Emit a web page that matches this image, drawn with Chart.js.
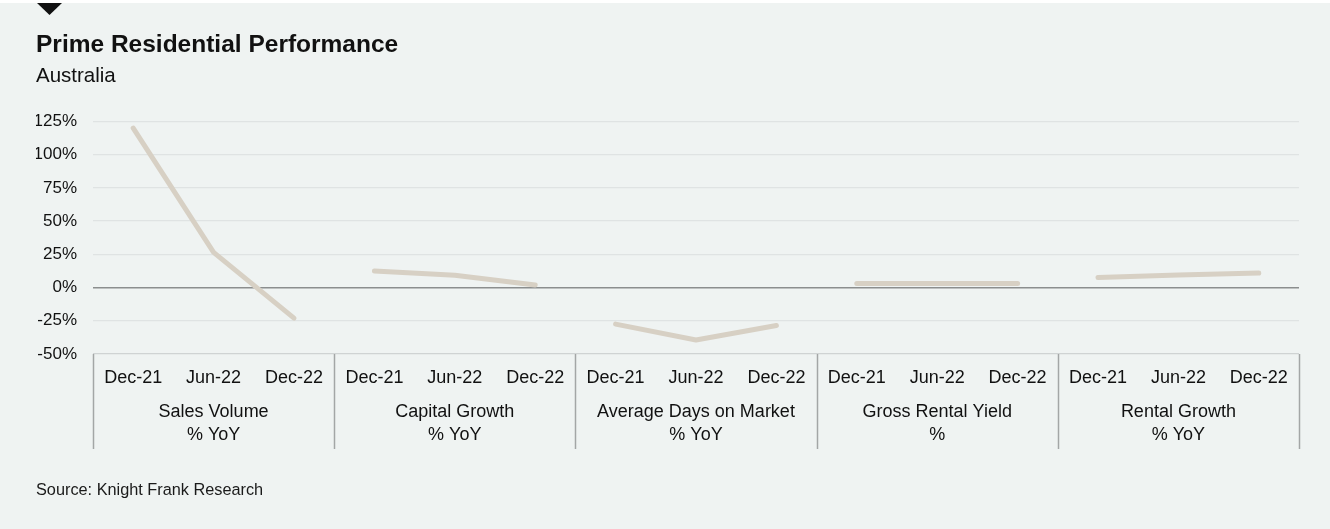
<!DOCTYPE html>
<html>
<head>
<meta charset="utf-8">
<style>
  html, body { margin: 0; padding: 0; background: #ffffff; }
  #wrap { position: relative; width: 1330px; height: 529px; }
  canvas { display: block; }
</style>
<script src="https://cdn.jsdelivr.net/npm/chart.js@4/dist/chart.umd.min.js"></script>
</head>
<body>
<div id="wrap"><canvas id="chart" width="1330" height="529"></canvas></div>
<script>
// Period labels repeated under each indicator
const periods = ["Dec-21", "Jun-22", "Dec-22"];

// Indicator group labels (two lines each)
const indicators = [
  ["Sales Volume", "% YoY"],
  ["Capital Growth", "% YoY"],
  ["Average Days on Market", "% YoY"],
  ["Gross Rental Yield", "%"],
  ["Rental Growth", "% YoY"]
];

// Values per indicator, Dec-21 / Jun-22 / Dec-22
const salesVolume      = [120, 26.5, -23];
const capitalGrowth    = [12.5, 9.2, 2];
const avgDaysOnMarket  = [-27.5, -39.5, -28.5];
const grossRentalYield = [3, 3, 3];
const rentalGrowth     = [7.5, 9.5, 11];

// Y axis range and tick step (%)
const yMin = -50;
const yMax = 125;
const yStep = 25;

const titleText = "Prime Residential Performance";
const subtitleText = "Australia";
const sourceText = "Source: Knight Frank Research";

const FONT = "'Liberation Sans', Arial, sans-serif";
const LINE_COLOR = "#d7d0c4";
const BG = "#eff3f2";

// Build the shared category axis and one dataset per indicator
const series = [salesVolume, capitalGrowth, avgDaysOnMarket, grossRentalYield, rentalGrowth];
const labels = [];
series.forEach(() => periods.forEach(p => labels.push(p)));

const datasets = series.map((vals, g) => {
  const data = labels.map(() => null);
  vals.forEach((v, i) => { data[g * periods.length + i] = v; });
  return {
    label: indicators[g].join(" "),
    data: data,
    borderColor: LINE_COLOR,
    borderWidth: 5,
    borderCapStyle: "round",
    borderJoinStyle: "round",
    pointRadius: 0,
    spanGaps: false,
    tension: 0,
    xAxisID: "x",
    yAxisID: "y"
  };
});

// Panel background and the small marker at the top
const backgroundPlugin = {
  id: "panelBackground",
  beforeDraw(chart) {
    const ctx = chart.ctx;
    ctx.save();
    ctx.fillStyle = BG;
    ctx.fillRect(0, 3, chart.width, chart.height - 3);
    ctx.fillStyle = "#111111";
    ctx.beginPath();
    ctx.moveTo(37, 3);
    ctx.lineTo(62, 3);
    ctx.lineTo(49.5, 15);
    ctx.closePath();
    ctx.fill();
    ctx.restore();
  }
};

// Vertical separators between indicator groups, through both label rows
const separatorPlugin = {
  id: "groupSeparators",
  afterDraw(chart) {
    const xs = chart.scales.x;
    const gs = chart.scales.groups;
    const step = xs.getPixelForValue(1) - xs.getPixelForValue(0);
    const ctx = chart.ctx;
    ctx.save();
    ctx.strokeStyle = "#a3a6a6";
    ctx.lineWidth = 1.5;
    for (let g = 0; g <= indicators.length; g++) {
      const x = Math.round(xs.getPixelForValue(g * periods.length) - step / 2) + 0.5;
      ctx.beginPath();
      ctx.moveTo(x, chart.chartArea.bottom);
      ctx.lineTo(x, gs.bottom);
      ctx.stroke();
    }
    ctx.restore();
  }
};

// Source note under the chart
const sourcePlugin = {
  id: "sourceNote",
  afterDraw(chart) {
    const ctx = chart.ctx;
    ctx.save();
    ctx.fillStyle = "#1a1a1a";
    ctx.font = "16.3px " + FONT;
    ctx.textAlign = "left";
    ctx.textBaseline = "middle";
    ctx.fillText(sourceText, 36, 491);
    ctx.restore();
  }
};

new Chart(document.getElementById("chart"), {
  type: "line",
  data: { labels: labels, datasets: datasets },
  plugins: [backgroundPlugin, separatorPlugin, sourcePlugin],
  options: {
    responsive: false,
    animation: false,
    events: [],
    layout: { padding: { left: 36, right: 31, top: 0, bottom: 80 } },
    plugins: {
      legend: { display: false },
      tooltip: { enabled: false },
      title: {
        display: true,
        text: titleText,
        align: "start",
        color: "#111111",
        font: { family: FONT, size: 24.5, weight: "bold" },
        padding: { top: 31, bottom: 2 }
      },
      subtitle: {
        display: true,
        text: subtitleText,
        align: "start",
        color: "#111111",
        font: { family: FONT, size: 20.5, weight: "normal" },
        padding: { top: 1.5, bottom: 33 }
      }
    },
    scales: {
      x: {
        type: "category",
        position: "bottom",
        offset: true,
        grid: { display: false, drawTicks: false },
        border: { display: false },
        ticks: {
          autoSkip: false,
          maxRotation: 0,
          color: "#111111",
          font: { family: FONT, size: 18 },
          padding: 13
        },
        afterFit(scale) { scale.height = 41; }
      },
      groups: {
        type: "category",
        position: "bottom",
        labels: indicators,
        offset: true,
        grid: { display: false, drawTicks: false },
        border: { display: false },
        ticks: {
          autoSkip: false,
          maxRotation: 0,
          color: "#111111",
          font: { family: FONT, size: 18, lineHeight: 23 / 18 },
          padding: 6
        },
        afterFit(scale) { scale.height = 54; }
      },
      y: {
        type: "linear",
        min: yMin,
        max: yMax,
        grid: {
          drawTicks: false,
          color(ctx) {
            const v = ctx.tick ? ctx.tick.value : null;
            if (v === 0) return "#8b8e8e";
            if (v === yMin) return "#cfd3d3";
            return "#dfe3e3";
          },
          lineWidth(ctx) {
            const v = ctx.tick ? ctx.tick.value : null;
            return v === 0 ? 1.6 : 1.3;
          }
        },
        border: { display: false },
        ticks: {
          stepSize: yStep,
          color: "#111111",
          font: { family: FONT, size: 17 },
          padding: 16,
          callback: (v) => v + "%"
        },
        afterFit(scale) { scale.width = 57; }
      }
    }
  }
});
</script>
</body>
</html>
